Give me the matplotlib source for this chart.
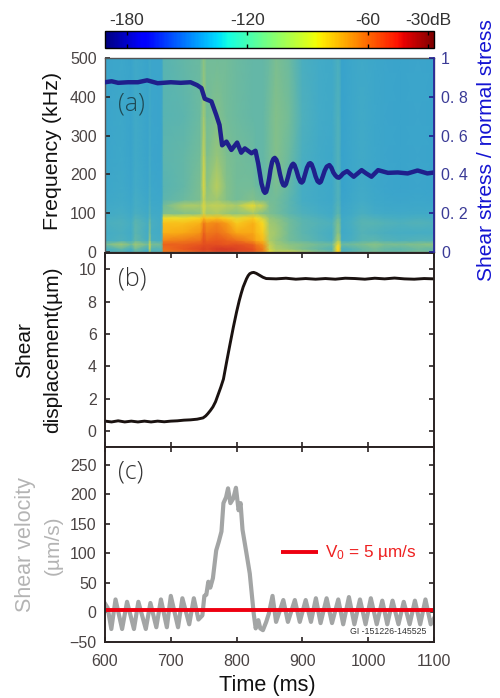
import numpy as np
import matplotlib
matplotlib.use("Agg")
import matplotlib.pyplot as plt
from matplotlib.colors import LinearSegmentedColormap, Normalize
from matplotlib.cm import ScalarMappable

plt.rcParams['font.family'] = ['Liberation Sans', 'DejaVu Sans']
plt.rcParams['mathtext.default'] = 'regular'

# ---------- data ----------
spec_time = [600,625,640,646,665,668,671,686,689,720,745,750,755,770,785,800,825,830,840,850,860,880,900,925,945,953,956,960,975,990,1010,1025,1050,1075,1100]
spec_freq = [0,8,20,30,50,75,88,100,120,135,170,250,350,500]
spec_f0   = [-122,-118,-124,-112,-124,-98,-118,-116,-62,-60,-56,-54,-56,-52,-52,-54,-56,-60,-64,-84,-92,-90,-95,-104,-110,-80,-78,-118,-114,-110,-106,-110,-110,-106,-110]
spec_f8   = [-125,-112,-125,-108,-125,-95,-118,-118,-60,-56,-52,-50,-52,-48,-48,-50,-54,-58,-62,-90,-96,-100,-106,-112,-118,-82,-80,-122,-118,-112,-108,-112,-114,-110,-112]
spec_f20  = [-108,-98,-108,-98,-108,-90,-106,-108,-58,-58,-56,-54,-54,-54,-56,-54,-58,-62,-66,-92,-98,-102,-104,-108,-110,-88,-86,-110,-108,-106,-102,-106,-106,-104,-102]
spec_f30  = [-124,-120,-124,-112,-124,-100,-122,-124,-64,-62,-60,-54,-58,-56,-58,-60,-66,-70,-74,-96,-100,-108,-112,-118,-122,-98,-96,-126,-122,-116,-114,-118,-120,-118,-118]
spec_f50  = [-125,-122,-126,-114,-126,-106,-124,-126,-72,-70,-66,-58,-62,-60,-64,-70,-70,-74,-78,-96,-98,-108,-114,-120,-124,-104,-104,-130,-124,-118,-120,-122,-124,-124,-124]
spec_f75  = [-122,-120,-124,-114,-124,-108,-122,-126,-76,-76,-72,-62,-66,-64,-68,-78,-72,-76,-82,-98,-100,-108,-114,-118,-120,-106,-106,-128,-122,-116,-116,-118,-120,-118,-120]
spec_f88  = [-124,-122,-126,-118,-126,-114,-124,-128,-84,-84,-80,-74,-78,-76,-80,-86,-78,-82,-90,-100,-102,-110,-116,-120,-124,-110,-110,-130,-124,-118,-120,-122,-124,-122,-124]
spec_f100 = [-128,-124,-130,-122,-130,-118,-128,-130,-106,-104,-102,-90,-98,-96,-100,-102,-98,-100,-104,-106,-108,-114,-120,-124,-128,-116,-116,-134,-128,-122,-126,-128,-130,-128,-130]
spec_f120 = [-130,-126,-132,-124,-132,-120,-130,-132,-108,-96,-96,-88,-94,-92,-94,-96,-84,-90,-92,-106,-108,-114,-122,-126,-130,-118,-118,-136,-130,-124,-130,-132,-134,-132,-134]
spec_f135 = [-132,-128,-134,-124,-134,-122,-132,-134,-114,-110,-106,-92,-100,-98,-104,-108,-104,-106,-108,-108,-108,-114,-124,-128,-132,-120,-120,-138,-132,-126,-132,-134,-136,-134,-136]
spec_f170 = [-134,-130,-136,-126,-136,-124,-134,-136,-116,-112,-106,-88,-102,-94,-104,-108,-108,-110,-112,-110,-106,-112,-124,-128,-132,-120,-120,-140,-134,-128,-134,-136,-138,-136,-138]
spec_f250 = [-136,-132,-138,-128,-138,-126,-136,-138,-114,-112,-108,-92,-106,-100,-106,-108,-110,-112,-112,-108,-104,-110,-122,-128,-132,-120,-120,-140,-134,-128,-134,-136,-138,-136,-138]
spec_f350 = [-136,-132,-138,-128,-138,-128,-136,-138,-116,-114,-110,-98,-108,-104,-108,-110,-112,-112,-112,-108,-104,-108,-120,-126,-130,-120,-120,-140,-134,-128,-134,-136,-138,-136,-138]
spec_f500 = [-136,-134,-138,-130,-138,-130,-136,-136,-116,-112,-110,-102,-108,-108,-108,-110,-112,-112,-112,-110,-106,-110,-122,-126,-130,-122,-122,-140,-134,-130,-134,-136,-138,-136,-138]

stress_t = [600,610,620,635,650,664,680,700,715,730,740,746.5,751.6,761.7,769,774,778,784.6,792,800.8,807,812.5,822.6,828.7,832.8,837.8,841,843,845,847,849.5,851.5,854,856,858,860.5,863,866,869,871,873,875,878,881,884,886,888,891,894,897,899,901,904,907,910,912,914,917,920,923,926,928,931,934,937,941,944,947,950,953,955.5,958,962,968,973,978,984,990,997,1005,1015,1030,1045,1060,1075,1090,1100]
stress_r = [.875,.88,.872,.875,.875,.885,.87,.875,.872,.875,.86,.845,.79,.776,.707,.655,.55,.569,.526,.564,.512,.534,.509,.522,.457,.353,.315,.305,.31,.335,.38,.425,.465,.48,.485,.475,.45,.40,.36,.345,.342,.35,.385,.425,.448,.455,.448,.42,.385,.362,.358,.365,.40,.435,.455,.458,.452,.425,.39,.365,.357,.362,.39,.42,.44,.448,.435,.41,.395,.385,.383,.39,.405,.417,.402,.388,.405,.422,.405,.388,.422,.408,.41,.405,.42,.405,.41]

disp_t = [600,610,620,630,640,650,660,670,680,690,700,710,720,730,740,749,753,756,760,764,768,772,776,780,785,789.7,795,800,804,807,810,812,815,817.6,820,823,826,830,835,840,845,860,875,890,905,920,935,950,965,980,995,1010,1025,1040,1055,1070,1085,1100]
disp_v = [.6,.55,.62,.55,.6,.55,.6,.55,.6,.56,.6,.62,.66,.68,.72,.8,.92,1.05,1.25,1.48,1.8,2.25,2.7,3.2,4.3,5.3,6.4,7.36,8.05,8.5,8.9,9.1,9.4,9.6,9.72,9.78,9.8,9.74,9.62,9.5,9.42,9.4,9.44,9.38,9.42,9.38,9.42,9.38,9.44,9.42,9.38,9.44,9.4,9.45,9.4,9.38,9.42,9.4]

vel_t = [600,604,609.6,616,626,633.5,644,650.7,662,669,678,685,694,700,711,717.6,728,735,742,748,751,754,757,760,764,769,773,777,780,784,787,790.6,795,799,803,806,809,815,820,823,826,829,833,836,840,845,849,854.6,860,871,878,888.5,896,905,913,920.5,927.6,936.8,945,954.5,962,970.7,979,987.5,996,1004,1013,1021.4,1029,1037,1046,1054,1063,1071,1079,1087,1095,1100]
vel_v = [15,8,-28,22,-28,18,-28,18,-28,16,-25,22,-25,28,-25,24,-20,24,-12,-5,28,30,52,42,58,105,120,137,185,195,210,185,193,211,173,185,140,100,66,32,-2,-27,-13,-27,-30,-16,-2,28,-16,21,-16,21,-16,21,-16,24,-18,24,-18,22,-20,26,-20,22,-20,24,-20,20,-20,20,-20,18,-20,20,-20,22,-20,-10]

v0_t = [600,1100]
v0_v = [5,5]
legend_t = [868,923]
legend_v = [103,103]

cbar_ticks = [-180,-120,-60,-30]
cbar_labels = ['-180','-120','-60','-30dB']
freq_ticks = [0,100,200,300,400,500]
stress_ticks = [0,.2,.4,.6,.8,1]
stress_labels = ['0','0. 2','0. 4','0. 6','0. 8','1']
disp_ticks = [0,2,4,6,8,10]
vel_ticks = [-50,0,50,100,150,200,250]
vel_labels = ['\u221250','0','50','100','150','200','250']
time_ticks = [600,700,800,900,1000,1100]

# ---------- layout ----------
W, H = 500, 698
fig = plt.figure(figsize=(W/100, H/100), dpi=100, facecolor='white')
def rect(l, t, r, b):
    return [l/W, 1-b/H, (r-l)/W, (b-t)/H]

L, R = 105, 434
cax = fig.add_axes(rect(L, 31, R, 48))
axa = fig.add_axes(rect(L, 58, R, 252))
axb = fig.add_axes(rect(L, 253, R, 447))
axc = fig.add_axes(rect(L, 447, R, 642))

DARK = '#2a2222'
TXT = '#4a4444'
tick_kw = dict(direction='in', length=3.5, width=1.2, color=DARK, labelcolor=TXT, labelsize=11.5)

# colour bar
sm = ScalarMappable(norm=Normalize(-191, -27), cmap='jet')
cb = fig.colorbar(sm, cax=cax, orientation='horizontal')
cb.set_ticks(cbar_ticks)
cb.set_ticklabels(cbar_labels)
cax.xaxis.set_ticks_position('both')
cax.tick_params(axis='x', direction='in', length=3, width=1, color='black', top=True, bottom=True,
                labeltop=True, labelbottom=False, labelsize=12.5, labelcolor='#333333', pad=2)
cb.outline.set_linewidth(1)

# spectrogram
spec = np.array([spec_f0, spec_f8, spec_f20, spec_f30, spec_f50, spec_f75, spec_f88, spec_f100,
                 spec_f120, spec_f135, spec_f170, spec_f250, spec_f350, spec_f500], dtype=float)
muted = LinearSegmentedColormap.from_list('muted', [
    (0.00, (55/255,162/255,205/255)),
    (0.18, (68/255,172/255,198/255)),
    (0.30, (95/255,182/255,172/255)),
    (0.42, (140/255,195/255,130/255)),
    (0.52, (195/255,208/255,85/255)),
    (0.62, (248/255,222/255,35/255)),
    (0.76, (248/255,165/255,20/255)),
    (0.90, (232/255,85/255,30/255)),
    (1.00, (208/255,52/255,40/255))])
axa.pcolormesh(spec_time, spec_freq, spec, shading='gouraud', cmap=muted, vmin=-142, vmax=-46, rasterized=True)
axa.set_xlim(600, 1100)
axa.set_ylim(0, 500)
axa.set_xticks([])
axa.set_yticks(freq_ticks)
axa.tick_params(axis='y', pad=6, **tick_kw)
for s in axa.spines.values():
    s.set_color('#555555'); s.set_linewidth(1)
axa.text(619, 381, '(a)', fontsize=18, color='#1f4a55', family='Open Sans', va='center', fontweight='light')

ax2 = axa.twinx()
ax2.plot(stress_t, stress_r, color='#1f1f8c', lw=3.2, solid_joinstyle='round')
ax2.set_ylim(0, 1)
ax2.set_yticks(stress_ticks)
ax2.set_yticklabels(stress_labels)
ax2.tick_params(axis='y', direction='in', length=3.5, width=1.2, color='#1f1f8c',
                labelcolor='#3a3a96', labelsize=11.5, pad=5)
for s in ax2.spines.values():
    s.set_visible(False)
ax2.spines['right'].set_visible(True)
ax2.spines['right'].set_color('#2a2a9a')
ax2.spines['right'].set_linewidth(1.3)

# displacement
axb.plot(disp_t, disp_v, color='#1a1210', lw=2.1)
axb.set_xlim(600, 1100)
axb.set_ylim(-1, 11)
axb.set_yticks(disp_ticks)
axb.set_xticks(time_ticks)
axb.tick_params(axis='both', top=True, right=True, labelbottom=False, pad=6, **tick_kw)
axb.text(619, 9.4, '(b)', fontsize=18, color='#333333', family='Open Sans', va='center', fontweight='light')

# velocity
axc.plot(vel_t, vel_v, color='#a3a5a5', lw=3.0, solid_joinstyle='round')
axc.plot(v0_t, v0_v, color='#ee0010', lw=2.8, solid_capstyle='butt')
axc.plot(legend_t, legend_v, color='#ee0010', lw=2.8, solid_capstyle='butt')
axc.text(934, 102, r'V$_0$ = 5 µm/s', color='#ee2020', fontsize=12.3, va='center')
axc.text(1088, -32, 'GI -151226-145525', color='#333333', fontsize=6.3, ha='right', va='center')
axc.set_xlim(600, 1100)
axc.set_ylim(-50, 280)
axc.set_yticks(vel_ticks)
axc.set_yticklabels(vel_labels)
axc.set_xticks(time_ticks)
axc.tick_params(axis='y', right=True, pad=6, **tick_kw)
axc.tick_params(axis='x', top=True, pad=9, **tick_kw)
axc.text(619, 238, '(c)', fontsize=18, color='#333333', family='Open Sans', va='center', fontweight='light')
for ax in (axb, axc):
    for s in ax.spines.values():
        s.set_color(DARK); s.set_linewidth(1.4)

# axis titles
def ftext(x, y, s, **kw):
    fig.text(x/W, 1-y/H, s, ha='center', va='center', **kw)
ftext(53, 151, 'Frequency (kHz)', rotation=90, fontsize=15.4, color='#111111')
ftext(487, 150, 'Shear stress / normal stress', rotation=90, fontsize=15.1, color='#1414d2')
ftext(25, 350, 'Shear', rotation=90, fontsize=15, color='#111111')
ftext(53, 350, 'displacement(µm)', rotation=90, fontsize=15, color='#111111')
ftext(25, 545, 'Shear velocity', rotation=90, fontsize=15.5, color='#b4b4b4')
ftext(53, 545, '(µm/s)', rotation=90, fontsize=15, color='#b4b4b4')
ftext(267, 685, 'Time (ms)', fontsize=15.6, color='#111111')

fig.savefig('out.png', dpi=100, facecolor='white')
